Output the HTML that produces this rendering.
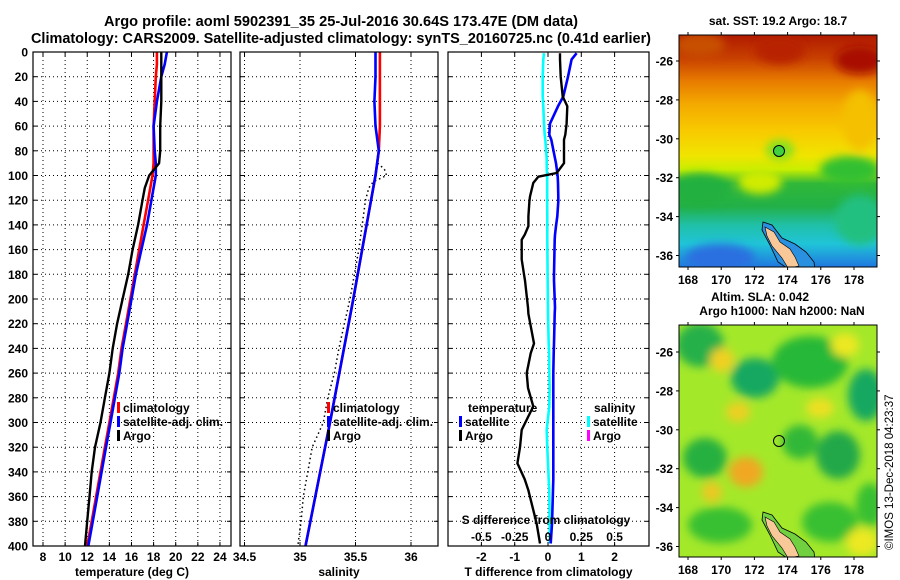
<!DOCTYPE html>
<html><head><meta charset="utf-8">
<style>
html,body{margin:0;padding:0;background:#fff;}
svg{display:block;font-family:"Liberation Sans",Arial,sans-serif;font-weight:bold;}
</style></head>
<body>
<svg id="fig" width="900" height="580" viewBox="0 0 900 580" xmlns="http://www.w3.org/2000/svg">
<defs>
  <filter id="blur6" x="-50%" y="-50%" width="200%" height="200%"><feGaussianBlur stdDeviation="4.5"/></filter>
  <clipPath id="clipM1"><rect x="679" y="35" width="198" height="232"/></clipPath>
  <clipPath id="clipM2"><rect x="679" y="325" width="198" height="232"/></clipPath>
  <linearGradient id="sstGrad" x1="0" y1="0" x2="0" y2="1">
    <stop offset="0" stop-color="#b01a00"/>
    <stop offset="0.1" stop-color="#c84000"/>
    <stop offset="0.2" stop-color="#e87c00"/>
    <stop offset="0.3" stop-color="#f4aa00"/>
    <stop offset="0.42" stop-color="#f8cc00"/>
    <stop offset="0.52" stop-color="#f0e400"/>
    <stop offset="0.58" stop-color="#c8ee00"/>
    <stop offset="0.64" stop-color="#30b838"/>
    <stop offset="0.74" stop-color="#22b048"/>
    <stop offset="0.82" stop-color="#20c0a8"/>
    <stop offset="0.9" stop-color="#20c4d8"/>
    <stop offset="1" stop-color="#2078e0"/>
  </linearGradient>
</defs>

<text x="341" y="26" font-size="14.3" text-anchor="middle" textLength="474" lengthAdjust="spacingAndGlyphs">Argo profile: aoml 5902391_35 25-Jul-2016 30.64S 173.47E (DM data)</text>
<text x="341" y="43" font-size="14.3" text-anchor="middle" textLength="620" lengthAdjust="spacingAndGlyphs">Climatology: CARS2009. Satellite-adjusted climatology: synTS_20160725.nc (0.41d earlier)</text>

<g id="p1"></g>
<g id="p2"></g>
<g id="p3"></g>

<!-- SST map -->
<g>
  <text x="778" y="25" font-size="12" text-anchor="middle">sat. SST: 19.2 Argo: 18.7</text>
  <g clip-path="url(#clipM1)">
    <rect x="679" y="35" width="198" height="232" fill="url(#sstGrad)"/>
    <g filter="url(#blur6)">
      <ellipse cx="700" cy="45" rx="25" ry="12" fill="#c85000"/>
      <ellipse cx="860" cy="60" rx="25" ry="14" fill="#a81000"/>
      <ellipse cx="780" cy="50" rx="25" ry="14" fill="#b82000"/>
      <ellipse cx="860" cy="120" rx="18" ry="30" fill="#f4c000"/>
      <ellipse cx="700" cy="190" rx="30" ry="16" fill="#20b040"/>
      <ellipse cx="850" cy="170" rx="30" ry="14" fill="#30c030"/>
      <ellipse cx="780" cy="150" rx="14" ry="10" fill="#80e020"/>
      <ellipse cx="760" cy="182" rx="22" ry="12" fill="#d0ec00"/>
      <ellipse cx="860" cy="220" rx="25" ry="25" fill="#20c080"/>
      <ellipse cx="720" cy="258" rx="35" ry="14" fill="#2a70e0"/>
    </g>
    <polygon points="763,222 772,225 782,238 795,244 806,252 814,262 815,270 790,270 778,262 770,245 762,230" fill="#2a90e0" stroke="#000" stroke-width="0.8"/>
    <polygon points="765,227 774,232 780,242 790,249 795,257 799,266 788,268 782,258 772,246 767,236" fill="#f8c898" stroke="#000" stroke-width="0.6"/>
    <circle cx="779" cy="151" r="5.5" fill="#40d040" stroke="#000" stroke-width="1"/>
  </g>
  <rect x="679" y="35" width="198" height="232" fill="none" stroke="#000" stroke-width="1"/>
  <g id="m1axes"></g>
</g>

<!-- SLA map -->
<g>
  <text x="760" y="301" font-size="12" text-anchor="middle">Altim. SLA: 0.042</text>
  <text x="782" y="315" font-size="12" text-anchor="middle">Argo h1000: NaN h2000: NaN</text>
  <g clip-path="url(#clipM2)">
    <rect x="679" y="325" width="198" height="232" fill="#a4e82a"/>
    <g filter="url(#blur6)">
      <ellipse cx="700" cy="345" rx="24" ry="22" fill="#28b048"/>
      <ellipse cx="755" cy="378" rx="24" ry="20" fill="#18a860"/>
      <ellipse cx="810" cy="362" rx="38" ry="26" fill="#28b838"/>
      <ellipse cx="866" cy="395" rx="18" ry="26" fill="#18a860"/>
      <ellipse cx="705" cy="458" rx="22" ry="20" fill="#28b040"/>
      <ellipse cx="800" cy="442" rx="18" ry="17" fill="#30b838"/>
      <ellipse cx="838" cy="455" rx="22" ry="24" fill="#20a848"/>
      <ellipse cx="720" cy="525" rx="32" ry="18" fill="#38c030"/>
      <ellipse cx="830" cy="522" rx="28" ry="20" fill="#38c030"/>
      <ellipse cx="870" cy="505" rx="14" ry="22" fill="#38c030"/>
      <ellipse cx="722" cy="360" rx="12" ry="12" fill="#f0d020"/>
      <ellipse cx="738" cy="412" rx="12" ry="10" fill="#ecd020"/>
      <ellipse cx="820" cy="408" rx="14" ry="10" fill="#ece020"/>
      <ellipse cx="746" cy="472" rx="17" ry="15" fill="#f0a820"/>
      <ellipse cx="712" cy="492" rx="10" ry="10" fill="#ecc820"/>
      <ellipse cx="862" cy="542" rx="16" ry="14" fill="#ece820"/>
      <ellipse cx="845" cy="345" rx="14" ry="12" fill="#ece820"/>
    </g>
    <polygon points="763,512 772,515 782,528 795,534 806,542 814,552 815,560 790,560 778,552 770,535 762,520" fill="#70d040" stroke="#000" stroke-width="0.8"/>
    <polygon points="765,517 774,522 780,532 790,539 795,547 799,556 788,558 782,548 772,536 767,526" fill="#f8c898" stroke="#000" stroke-width="0.6"/>
    <circle cx="779" cy="441" r="5.5" fill="none" stroke="#000" stroke-width="1"/>
  </g>
  <rect x="679" y="325" width="198" height="232" fill="none" stroke="#000" stroke-width="1"/>
  <g id="m2axes"></g>
</g>

<text transform="translate(893,550) rotate(-90)" font-size="11.5" font-weight="normal">©IMOS 13-Dec-2018 04:23:37</text>

<script>
// ---- data ----
const depthT = [0,10,20,40,60,80,90,100,110,120,140,160,180,200,220,240,260,280,300,320,340,360,380,400];
const tempClim = [18.3,18.3,18.2,18.1,18.0,18.0,18.0,17.9,17.7,17.5,17.1,16.7,16.3,15.9,15.5,15.1,14.8,14.4,14.0,13.6,13.2,12.8,12.4,12.0];
const tempSat  = [19.2,19.0,18.7,18.3,18.0,18.1,18.2,18.2,18.0,17.8,17.4,16.9,16.4,16.0,15.6,15.2,14.9,14.5,14.1,13.7,13.3,12.9,12.5,12.1];
const tempArgo = [18.7,18.7,18.7,18.7,18.6,18.6,18.5,17.6,17.2,17.0,16.6,16.1,15.7,15.2,14.7,14.3,14.0,13.6,13.2,12.7,12.4,12.2,12.0,11.8];
const depthS = [0,20,40,60,80,100,140,200,300,400];
const salClim = [35.72,35.72,35.72,35.72,35.71,35.68,35.60,35.48,35.27,35.05];
const salSat  = [35.68,35.68,35.67,35.68,35.71,35.68,35.60,35.48,35.27,35.05];
const depthSA = [90,95,100,105,110,120,140,160,180,200,220,240,260,280,300,320,340,360,380,400];
const salArgo = [35.70,35.76,35.78,35.66,35.62,35.59,35.56,35.53,35.49,35.45,35.40,35.35,35.31,35.25,35.21,35.11,35.07,35.03,35.01,34.98];
const depthD = [1,6,20,36,44,58,67,71,86,90,98,101,106,117,121,133,141,148,152,168,180,185,207,212,236,244,260,272,287,306,320,333,346,355,382,398];
const dTArgo = [0.36,0.36,0.38,0.44,0.58,0.56,0.52,0.48,0.48,0.48,0.26,-0.29,-0.44,-0.54,-0.56,-0.59,-0.59,-0.7,-0.79,-0.79,-0.72,-0.69,-0.6,-0.59,-0.42,-0.52,-0.64,-0.6,-0.44,-0.79,-0.84,-0.92,-0.7,-0.59,-0.34,-0.24];
const dTSat  = [0.86,0.71,0.6,0.46,0.3,0.06,0.04,0.1,0.21,0.24,0.28,0.29,0.3,0.31,0.31,0.28,0.24,0.21,0.2,0.19,0.18,0.18,0.21,0.2,0.18,0.17,0.16,0.16,0.16,0.16,0.16,0.16,0.16,0.15,0.12,0.08];
const dSSat  = [-0.03,-0.035,-0.04,-0.04,-0.035,-0.03,-0.025,-0.02,-0.01,-0.01,-0.008,-0.006,-0.006,-0.006,-0.006,-0.005,-0.005,-0.005,-0.005,-0.004,-0.003,-0.002,0,0,0.005,0.008,0.01,0.012,0.01,-0.01,-0.005,0,0.005,0.01,0.012,0.015];
const depthTicks = [0,20,40,60,80,100,120,140,160,180,200,220,240,260,280,300,320,340,360,380,400];
const tTicks = [8,10,12,14,16,18,20,22,24];
const sTicks = [34.5,35,35.5,36];
const sTickLabels = ["34.5","35","35.5","36"];
const dTicks = [-2,-1,0,1,2];
const dsTicks = [-0.5,-0.25,0,0.25,0.5];
const dsTickLabels = ["-0.5","-0.25","0","0.25","0.5"];
const lonTicks = [168,170,172,174,176,178];
const latTicks = [-26,-28,-30,-32,-34,-36];

// ---- scales ----
const yD = d => 52 + d * 1.235;
const xT = t => 43 + (t - 8) * 11.06;
const xS = s => 300 + (s - 35) * 111;
const xDT = v => 548 + v * 33.3;
const xDS = v => 548 + v * 133.2;
const lonX = lon => 688 + (lon - 168) * 16.6;
const latY1 = lat => 61 + (-26 - lat) * 19.45;
const latY2 = lat => 352 + (-26 - lat) * 19.45;

const NS = "http://www.w3.org/2000/svg";
function mk(tag, attrs, parent) {
  const e = document.createElementNS(NS, tag);
  for (const k in attrs) e.setAttribute(k, attrs[k]);
  parent.appendChild(e);
  return e;
}
function txt(str, x, y, size, anchor, parent) {
  const t = mk("text", {x: x, y: y, "font-size": size, "text-anchor": anchor}, parent);
  t.textContent = str;
  return t;
}
function line(xs, ys, color, w, parent, dash) {
  const pts = xs.map((x, i) => x.toFixed(1) + "," + ys[i].toFixed(1)).join(" ");
  const a = {points: pts, fill: "none", stroke: color, "stroke-width": w, "stroke-linejoin": "round"};
  if (dash) a["stroke-dasharray"] = dash;
  return mk("polyline", a, parent);
}

function panel(g, x0, x1, ticks, labels, sx, title, showY) {
  const top = 52, bot = 546;
  const grid = mk("g", {stroke: "#000", "stroke-width": 1, "stroke-dasharray": "1,3"}, g);
  depthTicks.forEach(d => {
    if (d > 0 && d < 400) mk("line", {x1: x0, x2: x1, y1: yD(d), y2: yD(d)}, grid);
  });
  ticks.forEach(t => {
    const x = sx(t);
    if (x > x0 + 1 && x < x1 - 1) mk("line", {x1: x, x2: x, y1: top, y2: bot}, grid);
  });
  const tk = mk("g", {stroke: "#000", "stroke-width": 1}, g);
  depthTicks.forEach(d => {
    mk("line", {x1: x0, x2: x0 + 4, y1: yD(d), y2: yD(d)}, tk);
    mk("line", {x1: x1 - 4, x2: x1, y1: yD(d), y2: yD(d)}, tk);
  });
  ticks.forEach((t, i) => {
    const x = sx(t);
    mk("line", {x1: x, x2: x, y1: bot, y2: bot - 4}, tk);
    mk("line", {x1: x, x2: x, y1: top, y2: top + 4}, tk);
    const lt = txt(labels[i], x, 561, 12, "middle", g);
    
    
  });
  if (showY) {
    depthTicks.forEach(d => {
      const yt = txt(String(d), 28, yD(d) + 4.5, 12, "end", g);
      
      
    });
  }
  const at = txt(title, (x0 + x1) / 2, 576, 12, "middle", g);
  
  
}

function frame(g, x0, x1) {
  const r = mk("rect", {x: x0, y: 52, width: x1 - x0, height: 494, fill: "none", stroke: "#000", "stroke-width": 1.2}, g);
  
  
}

function legendEntry(g, x, y, color, label) {
  const m = mk("rect", {x: x, y: y - 10, width: 3, height: 11, fill: color}, g);
  
  
  const t = txt(label, x + 6, y, 12, "start", g);
  
  
}

// Panel 1
const p1 = document.getElementById("p1");
panel(p1, 33, 231, tTicks, tTicks.map(String), xT, "temperature (deg C)", true);
let l;
l = line(tempClim.map(xT), depthT.map(yD), "#ff0000", 2.6, p1);


l = line(tempSat.map(xT), depthT.map(yD), "#0000ff", 2.6, p1);


l = line(tempArgo.map(xT), depthT.map(yD), "#000000", 2.4, p1);


legendEntry(p1, 117, 412, "#ff0000", "climatology");
legendEntry(p1, 117, 426, "#0000ff", "satellite-adj. clim.");
legendEntry(p1, 117, 440, "#000000", "Argo");
frame(p1, 33, 231);

// Panel 2
const p2 = document.getElementById("p2");
panel(p2, 240, 438, sTicks, sTickLabels, xS, "salinity", false);
l = line(salArgo.map(xS), depthSA.map(yD), "#000000", 1.5, p2, "1.5,3");


l = line(salClim.map(xS), depthS.map(yD), "#ff0000", 2.6, p2);


l = line(salSat.map(xS), depthS.map(yD), "#0000ff", 2.6, p2);


legendEntry(p2, 327, 412, "#ff0000", "climatology");
legendEntry(p2, 327, 426, "#0000ff", "satellite-adj. clim.");
legendEntry(p2, 327, 440, "#000000", "Argo");
frame(p2, 240, 438);

// Panel 3
const p3 = document.getElementById("p3");
panel(p3, 448, 649, dTicks, dTicks.map(String), xDT, "T difference from climatology", false);
l = line(dSSat.map(xDS), depthD.map(yD), "#00ffff", 2.6, p3);


l = line(dTSat.map(xDT), depthD.map(yD), "#0000ff", 2.6, p3);


l = line(dTArgo.map(xDT), depthD.map(yD), "#000000", 2.4, p3);


let t3 = txt("temperature", 468, 412, 12, "start", p3);


t3 = txt("salinity", 594, 412, 12, "start", p3);


legendEntry(p3, 459, 426, "#0000ff", "satellite");
legendEntry(p3, 459, 440, "#000000", "Argo");
legendEntry(p3, 587, 426, "#00ffff", "satellite");
legendEntry(p3, 587, 440, "#ff00ff", "Argo");
t3 = txt("S difference from climatology", 546, 524, 12, "middle", p3);


dsTicks.forEach((v, i) => {
  const t = txt(dsTickLabels[i], xDS(v), 541, 12, "middle", p3);
  
  
});
frame(p3, 448, 649);

// Map axes
function mapAxes(gid, latY, top, bot) {
  const g = document.getElementById(gid);
  lonTicks.forEach(lon => {
    const x = lonX(lon);
    mk("line", {x1: x, x2: x, y1: top - 3, y2: top, stroke: "#000"}, g);
    mk("line", {x1: x, x2: x, y1: bot, y2: bot + 3, stroke: "#000"}, g);
    const t = txt(String(lon), x, bot + 17, 12, "middle", g);
    
    
  });
  latTicks.forEach(lat => {
    const y = latY(lat);
    mk("line", {x1: 676, x2: 679, y1: y, y2: y, stroke: "#000"}, g);
    mk("line", {x1: 877, x2: 880, y1: y, y2: y, stroke: "#000"}, g);
    const t = txt(String(lat), 673, y + 4.5, 12, "end", g);
    
    
  });
}
mapAxes("m1axes", latY1, 35, 267);
mapAxes("m2axes", latY2, 325, 557);
</script>
</svg>
</body></html>
